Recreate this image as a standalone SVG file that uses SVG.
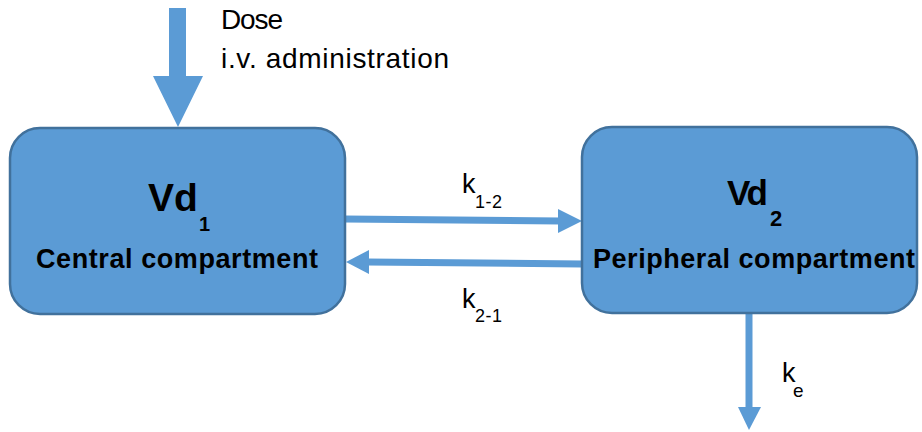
<svg xmlns="http://www.w3.org/2000/svg" width="922" height="432" viewBox="0 0 922 432">
<style>
.box{fill:#5B9BD5;stroke:#41719C;stroke-width:2.5}
.arr{fill:#5B9BD5;stroke:none}
.shaft{stroke:#5B9BD5;stroke-width:7;fill:none}
.t{font-family:"Liberation Sans",Arial,sans-serif;fill:#000}
.b{font-weight:bold}
</style>
<rect width="922" height="432" fill="#fff"/>
<g id="connectors">
<polygon class="arr" points="169,8 186,8 186,76 203,76 178,127 153,76 169,76"/>
<line class="shaft" x1="345" y1="219" x2="560" y2="221"/>
<polygon class="arr" points="558,209 582,221 558,233"/>
<line class="shaft" x1="582" y1="264" x2="367" y2="262"/>
<polygon class="arr" points="369,250 346,262 369,274"/>
<line class="shaft" x1="749" y1="314" x2="749" y2="409"/>
<polygon class="arr" points="738,407 761,407 749,430"/>
</g>
<g id="dose-label">
<text class="t" x="221" y="29" font-size="28" textLength="62">Dose</text>
<text class="t" x="221" y="68" font-size="28" textLength="228">i.v. administration</text>
</g>
<g id="central">
<rect class="box" x="10" y="128" width="335" height="186" rx="30"/>
<text class="t b" x="148" y="211" font-size="39">Vd</text>
<text class="t b" x="199" y="231" font-size="20">1</text>
<text class="t b" x="36" y="268" font-size="27" textLength="282">Central compartment</text>
</g>
<g id="peripheral">
<rect class="box" x="582" y="127" width="335" height="186" rx="30"/>
<text class="t b" x="727" y="205" font-size="35" textLength="41">Vd</text>
<text class="t b" x="770" y="226" font-size="22">2</text>
<text class="t b" x="593" y="268" font-size="27" textLength="322">Peripheral compartment</text>
</g>
<g id="k12">
<text class="t" x="462" y="193" font-size="27">k</text>
<text class="t" x="475" y="208" font-size="18" textLength="27">1-2</text>
</g>
<g id="k21">
<text class="t" x="462" y="308" font-size="27">k</text>
<text class="t" x="475" y="322" font-size="18" textLength="27">2-1</text>
</g>
<g id="ke">
<text class="t" x="782" y="382" font-size="27">k</text>
<text class="t" x="793" y="397" font-size="19">e</text>
</g>
</svg>
